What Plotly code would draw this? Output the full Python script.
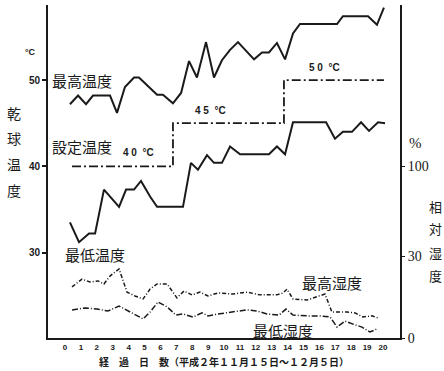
import plotly.graph_objects as go

# 経過日数 (day) and dry-bulb temperatures (°C)
max_temp_day = [0.31, 0.82, 1.32, 1.76, 2.83, 3.27, 3.77, 4.34, 4.65, 5.79, 6.16, 6.79,
                7.30, 7.80, 8.30, 8.87, 9.37, 9.87, 10.38, 10.88, 11.89, 12.39, 12.83,
                13.33, 13.84, 14.34, 14.78, 17.11, 17.48, 19.06, 19.62, 20.06]
max_temp = [47.2, 48.2, 47.2, 48.2, 48.2, 46.2, 49.2, 50.3, 50.3, 48.3, 48.3, 47.3,
            48.5, 52.2, 50.3, 54.4, 50.3, 52.3, 53.5, 54.4, 52.4, 53.2, 53.2,
            54.3, 52.4, 55.4, 56.5, 56.5, 57.4, 57.4, 56.4, 58.4]

min_temp_day = [0.31, 0.88, 1.51, 1.89, 2.45, 3.40, 3.84, 4.34, 4.78, 5.35, 5.79, 7.42,
                7.92, 8.36, 8.93, 9.37, 9.87, 10.38, 11.01, 12.83, 13.33, 13.84, 14.34,
                16.42, 16.98, 17.48, 18.05, 18.62, 19.12, 19.69, 20.13]
min_temp = [33.5, 31.2, 32.2, 32.2, 37.3, 35.3, 37.3, 37.3, 38.3, 36.5, 35.3, 35.3,
            40.4, 39.6, 41.3, 40.4, 40.4, 42.3, 41.4, 41.4, 42.3, 41.4, 45.1,
            45.1, 43.2, 44.0, 44.0, 45.1, 44.1, 45.1, 45.0]

# 設定温度 steps
set_day = [0.44, 6.79, 13.77, 20.06]
set_temp = [40, 45, 50, 50]

# relative humidity (%)
max_rh_day = [0.44, 1.07, 1.57, 2.08, 2.45, 2.83, 3.40, 3.90, 4.40, 4.91, 5.35, 5.79,
              6.42, 7.04, 7.48, 7.99, 8.49, 8.99, 9.62, 10.57, 11.45, 12.26, 13.33,
              13.71, 13.96, 14.34, 15.22, 15.85, 16.35, 16.79, 17.17, 17.74, 18.24,
              18.74, 19.31, 19.69]
max_rh = [18.7, 21.6, 20.5, 20.9, 19.8, 22.7, 25.3, 16.8, 15.4, 14.3, 17.9, 19.8,
          19.8, 14.7, 17.2, 15.8, 16.8, 15.4, 16.5, 16.1, 16.8, 15.8, 15.8,
          16.5, 17.9, 14.3, 13.9, 15.0, 16.1, 9.5, 9.5, 9.5, 9.2,
          7.7, 8.1, 7.3]

min_rh_day = [0.44, 1.26, 2.01, 2.70, 3.40, 4.09, 4.91, 5.35, 5.85, 6.42, 6.98, 7.42,
              8.05, 8.62, 8.99, 9.62, 10.57, 11.45, 12.08, 12.70, 13.46, 13.90, 14.34,
              15.22, 16.04, 16.67, 17.11, 17.61, 18.11, 18.68, 19.18, 19.62]
min_rh = [10.3, 11.0, 10.6, 9.9, 11.7, 9.5, 7.0, 9.5, 13.2, 11.4, 8.4, 8.8,
          7.7, 9.2, 8.1, 8.8, 9.5, 10.3, 9.9, 8.8, 8.4, 10.6, 8.4,
          8.1, 8.1, 7.7, 4.0, 6.2, 5.1, 4.0, 2.2, 3.3]

day_ticks = list(range(0, 21))
temp_ticks = [30, 40, 50]
rh_tick_pos = [0, 30, 63]
rh_tick_text = ["0", "30", "100"]

JP = "Noto Sans CJK JP"
INK = "#1a1a1a"

fig = go.Figure()
fig.add_trace(go.Scatter(x=max_temp_day, y=max_temp, mode="lines",
                         line=dict(color=INK, width=2)))
fig.add_trace(go.Scatter(x=min_temp_day, y=min_temp, mode="lines",
                         line=dict(color=INK, width=2)))
fig.add_trace(go.Scatter(x=set_day, y=set_temp, mode="lines", line_shape="hv",
                         line=dict(color=INK, width=1.8, dash="9px,3px,2px,3px")))
fig.add_trace(go.Scatter(x=max_rh_day, y=max_rh, mode="lines", yaxis="y2",
                         line=dict(color=INK, width=1.5, dash="4px,2px,1px,2px")))
fig.add_trace(go.Scatter(x=min_rh_day, y=min_rh, mode="lines", yaxis="y2",
                         line=dict(color=INK, width=1.5, dash="6px,2px,1px,2px")))

ann = []


def text(x, y, s, size, xref="x", yref="y", weight="normal", family=JP):
    ann.append(dict(x=x, y=y, xref=xref, yref=yref, text=s, showarrow=False,
                    xanchor="center", yanchor="middle",
                    font=dict(family=family, size=size, color=INK, weight=weight)))


text(1.07, 49.9, "最高温度", 15)
text(1.07, 42.25, "設定温度", 15)
text(1.89, 29.8, "最低温度", 15)
text(16.79, 26.5, "最高湿度", 15)
text(13.7, 21.0, "最低湿度", 15)
text(4.6, 41.6, "4 0  °C", 10, weight="bold", family="Liberation Sans")
text(9.18, 46.5, "4 5  °C", 10, weight="bold", family="Liberation Sans")
text(16.29, 51.4, "5 0  °C", 10, weight="bold", family="Liberation Sans")

# axis captions (paper coordinates)
text(-0.051, 0.859, "°C", 9, xref="paper", yref="paper", weight="bold",
     family="Liberation Sans")
for ch, yp in zip("乾球温度", [113, 138, 164, 190]):
    text(-0.097, (338 - yp) / 333, ch, 14, xref="paper", yref="paper")
for ch, yp in zip("相対湿度", [206, 229, 252, 275]):
    text(1.102, (338 - yp) / 333, ch, 13, xref="paper", yref="paper")
text(1.045, (338 - 143) / 333, "%", 15, xref="paper", yref="paper",
     family="Liberation Serif")
text(0.499, -0.072, "経　過　日　数（平成２年１１月１５日～１２月５日）", 10,
     xref="paper", yref="paper", weight="bold")

fig.update_layout(
    width=444, height=371,
    margin=dict(l=48, r=44, t=5, b=33),
    paper_bgcolor="white", plot_bgcolor="white",
    showlegend=False,
    annotations=ann,
    xaxis=dict(range=[-1.07, 21.07], tickvals=day_ticks,
               ticktext=[str(d) for d in day_ticks],
               showline=True, linewidth=2, linecolor=INK, showgrid=False,
               zeroline=False, ticks="", ticklen=0,
               tickfont=dict(family="Liberation Sans", size=8, color=INK, weight="bold")),
    yaxis=dict(range=[20.1, 58.7], tickvals=temp_ticks,
               showline=True, linewidth=2, linecolor=INK, showgrid=False,
               zeroline=False, ticks="outside", ticklen=4, tickwidth=1.5, tickcolor=INK,
               tickfont=dict(family="Liberation Sans", size=10, color=INK, weight="bold")),
    yaxis2=dict(range=[0, 122], overlaying="y", side="right",
                tickvals=rh_tick_pos, ticktext=rh_tick_text,
                showline=True, linewidth=2, linecolor=INK, showgrid=False,
                zeroline=False, ticks="outside", ticklen=3, tickwidth=1, tickcolor=INK,
                tickfont=dict(family="Liberation Serif", size=14, color=INK)),
)

fig.write_html("out.html")
